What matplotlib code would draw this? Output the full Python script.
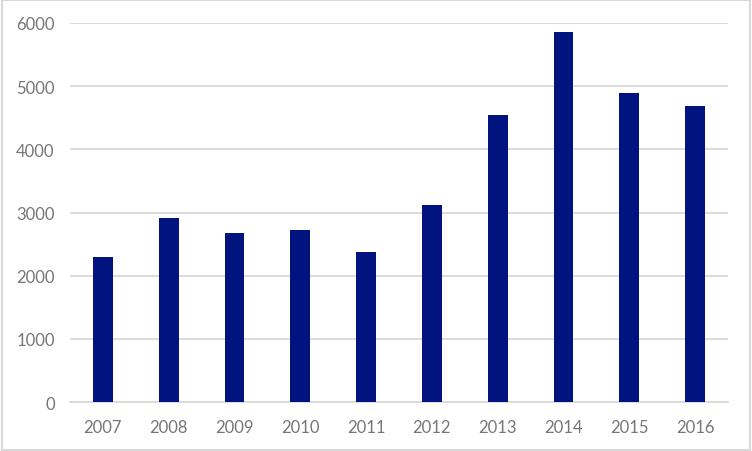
import matplotlib.pyplot as plt
from matplotlib.patches import Rectangle

years = ['2007', '2008', '2009', '2010', '2011', '2012', '2013', '2014', '2015', '2016']
values = [2290, 2910, 2670, 2725, 2370, 3115, 4540, 5850, 4890, 4685]
y_ticks = [0, 1000, 2000, 3000, 4000, 5000, 6000]

plt.rcParams['font.family'] = ['Lato', 'DejaVu Sans']

fig = plt.figure(figsize=(7.52, 4.52), dpi=100)
ax = fig.add_axes([0.093, 0.108, 0.875, 0.839])

x = range(len(years))
ax.bar(x, values, width=0.3, color='#00137f', zorder=3)

ax.set_xlim(-0.5, len(years) - 0.5)
ax.set_ylim(0, 6000)
ax.set_yticks(y_ticks)
ax.set_xticks(list(x))
ax.set_xticklabels(years)

ax.yaxis.grid(True, color='#d9d9d9', linewidth=1.3, zorder=0)
for side in ['left', 'right', 'top']:
    ax.spines[side].set_visible(False)
ax.spines['bottom'].set_color('#d9d9d9')
ax.spines['bottom'].set_linewidth(1.3)
ax.tick_params(axis='both', length=0, colors='#767676', labelsize=12)
ax.tick_params(axis='y', pad=11)
ax.tick_params(axis='x', pad=12)

# light outer frame like the original chart box
fig.patches.append(Rectangle((0.002, 0.003), 0.996, 0.994, transform=fig.transFigure,
                             fill=False, edgecolor='#d9d9d9', linewidth=1.5))

fig.savefig('out.png', dpi=100)
